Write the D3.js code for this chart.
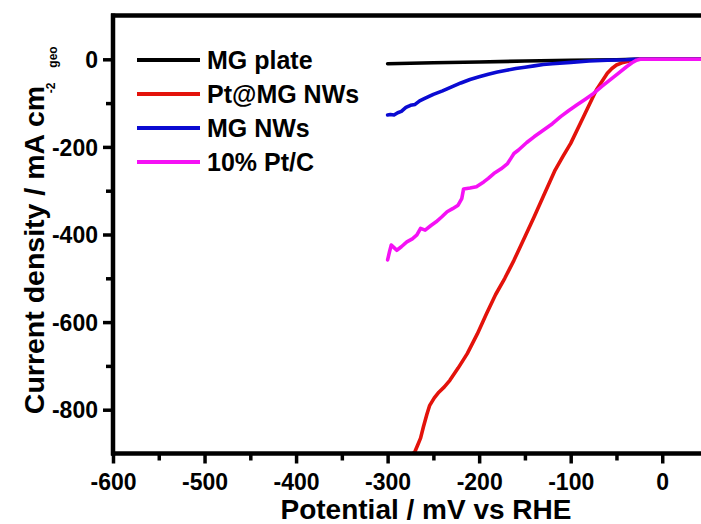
<!DOCTYPE html>
<html><head><meta charset="utf-8">
<script src="https://cdn.jsdelivr.net/npm/d3@7"></script>
<style>
html,body{margin:0;padding:0;background:#fff;}
svg{display:block;font-family:"Liberation Sans",Arial,sans-serif;font-weight:bold;}
</style></head>
<body>
<svg id="chart" width="701" height="524"></svg>
<script>
// ---- data (potential in mV vs RHE, current density in mA cm^-2) ----
const seriesNames = ["MG plate", "Pt@MG NWs", "MG NWs", "10% Pt/C"];
const seriesColors = ["#000000", "#e3120b", "#0a0ad2", "#f511f5"];

const mgPlateX = [-300, -250, -200, -150, -100, -50, -30, 50];
const mgPlateY = [-10, -8, -6, -4, -2, -1, 0, 0];

const ptMgX = [-272, -270, -267, -264, -261, -257, -254, -249, -244, -238, -232, -223, -213, -202, -192, -182, -172, -162, -150, -140, -130, -117, -108, -100, -86, -72, -65, -60, -55, -50, -44, -38, -33, -28, 50];
const ptMgY = [-900, -895, -880, -865, -840, -810, -790, -773, -760, -748, -733, -705, -672, -627, -581, -537, -500, -459, -405, -360, -313, -253, -220, -192, -131, -70, -48, -32, -21, -13, -8, -5, -2, 0, 0];

const mgNwX = [-300, -297, -293, -289, -285, -280, -275, -270, -265, -260, -250, -240, -230, -220, -210, -200, -190, -180, -170, -160, -150, -140, -130, -120, -100, -80, -60, -40, -30, 50];
const mgNwY = [-127, -126, -127, -122, -119, -110, -105, -103, -95, -90, -80, -72, -63, -54, -46, -40, -34, -29, -25, -21, -18, -15, -12, -10, -7, -4, -2, -1, 0, 0];

const ptcX = [-300, -298, -296, -293, -290, -285, -279, -273, -268, -264, -259, -253, -247, -241, -235, -229, -223, -219, -217, -210, -203, -195, -190, -184, -176, -169, -165, -162, -157, -148, -140, -130, -120, -111, -102, -93, -84, -75, -66, -57, -48, -39, -33, -28, -24, 50];
const ptcY = [-458, -440, -424, -430, -436, -428, -417, -410, -401, -386, -390, -380, -371, -360, -348, -341, -333, -318, -296, -294, -291, -280, -272, -261, -250, -238, -225, -215, -207, -190, -177, -162, -147, -131, -117, -104, -91, -78, -62, -47, -32, -17, -8, -2, 0, 0];

const xMajorTicks = [-600, -500, -400, -300, -200, -100, 0];
const xMinorTicks = [-550, -450, -350, -250, -150, -50];
const yMajorTicks = [0, -200, -400, -600, -800];
const yMinorTicks = [-100, -300, -500, -700];

const xTitle = "Potential / mV vs RHE";
const yTitleMain = "Current density / mA cm";
const yTitleSup = "-2";
const yTitleSub = "geo";

// ---- drawing ----
const svg = d3.select("#chart");
const L = 113, R = 708, T = 15.5, B = 453.5;
const x = d3.scaleLinear().domain([-600, 50]).range([L, R]);
const y = d3.scaleLinear().domain([-900, 100]).range([B, T]);

svg.append("defs").append("clipPath").attr("id", "clip")
  .append("rect").attr("x", L).attr("y", T).attr("width", R - L).attr("height", B - T);

const series = [
  {xs: mgPlateX, ys: mgPlateY},
  {xs: ptMgX, ys: ptMgY},
  {xs: mgNwX, ys: mgNwY},
  {xs: ptcX, ys: ptcY}
];
const line = d3.line().x(d => x(d[0])).y(d => y(d[1]));
const g = svg.append("g").attr("clip-path", "url(#clip)");
series.forEach((s, i) => {
  g.append("path")
    .datum(s.xs.map((v, k) => [v, s.ys[k]]))
    .attr("d", line)
    .attr("fill", "none")
    .attr("stroke", seriesColors[i])
    .attr("stroke-width", 3.6)
    .attr("stroke-linejoin", "round")
    .attr("stroke-linecap", "round");
});

// axes
const fmt = d => String(d);
const xAxisMajor = d3.axisBottom(x).tickValues(xMajorTicks).tickSize(10).tickFormat(fmt);
const xAxisMinor = d3.axisBottom(x).tickValues(xMinorTicks).tickSize(7).tickFormat("");
const yAxisMajor = d3.axisLeft(y).tickValues(yMajorTicks).tickSize(10).tickFormat(fmt);
const yAxisMinor = d3.axisLeft(y).tickValues(yMinorTicks).tickSize(7).tickFormat("");

function styleAxis(sel) {
  sel.select(".domain").remove();
  sel.selectAll(".tick line").attr("stroke", "#000").attr("stroke-width", 3.5);
  sel.selectAll(".tick text").attr("fill", "#000").style("font-size", "23px").style("font-weight", "bold")
    .style("font-family", '"Liberation Sans",Arial,sans-serif');
}
const gx = svg.append("g").attr("transform", `translate(0,${B})`).call(xAxisMajor).call(styleAxis);
gx.selectAll(".tick text").attr("dy", null).attr("y", 36);
svg.append("g").attr("transform", `translate(0,${B})`).call(xAxisMinor).call(styleAxis);
const gy = svg.append("g").attr("transform", `translate(${L},0)`).call(yAxisMajor).call(styleAxis);
gy.selectAll(".tick text").attr("x", -15).attr("dy", "0.36em");
svg.append("g").attr("transform", `translate(${L},0)`).call(yAxisMinor).call(styleAxis);

// frame lines
svg.append("line").attr("x1", L - 2).attr("x2", 701).attr("y1", B).attr("y2", B).attr("stroke", "#000").attr("stroke-width", 4.5);
svg.append("line").attr("x1", L - 2).attr("x2", 701).attr("y1", T).attr("y2", T).attr("stroke", "#000").attr("stroke-width", 4.5);
svg.append("line").attr("x1", L).attr("x2", L).attr("y1", T - 2).attr("y2", B + 2).attr("stroke", "#000").attr("stroke-width", 4.5);

// legend
const legendY0 = 60, legendDy = 34;
seriesNames.forEach((name, i) => {
  const yy = legendY0 + i * legendDy;
  svg.append("line").attr("x1", 137).attr("x2", 200).attr("y1", yy).attr("y2", yy)
    .attr("stroke", seriesColors[i]).attr("stroke-width", 4);
  svg.append("text").attr("x", 207).attr("y", yy).attr("dy", "0.36em")
    .style("font-size", "25px").attr("fill", "#000").text(name);
});

// titles
svg.append("text").attr("x", 426).attr("y", 519).attr("text-anchor", "middle")
  .style("font-size", "28px").attr("fill", "#000").text(xTitle);

svg.append("text").attr("transform", "translate(44,250) rotate(-90)").attr("text-anchor", "middle")
  .style("font-size", "28.5px").attr("fill", "#000").text(yTitleMain);
svg.append("text").attr("transform", "translate(55,88) rotate(-90)").attr("text-anchor", "middle")
  .style("font-size", "12px").attr("fill", "#000").text(yTitleSup);
svg.append("text").attr("transform", "translate(57,57) rotate(-90)").attr("text-anchor", "middle")
  .style("font-size", "12px").attr("fill", "#000").text(yTitleSub);
</script>
</body></html>
